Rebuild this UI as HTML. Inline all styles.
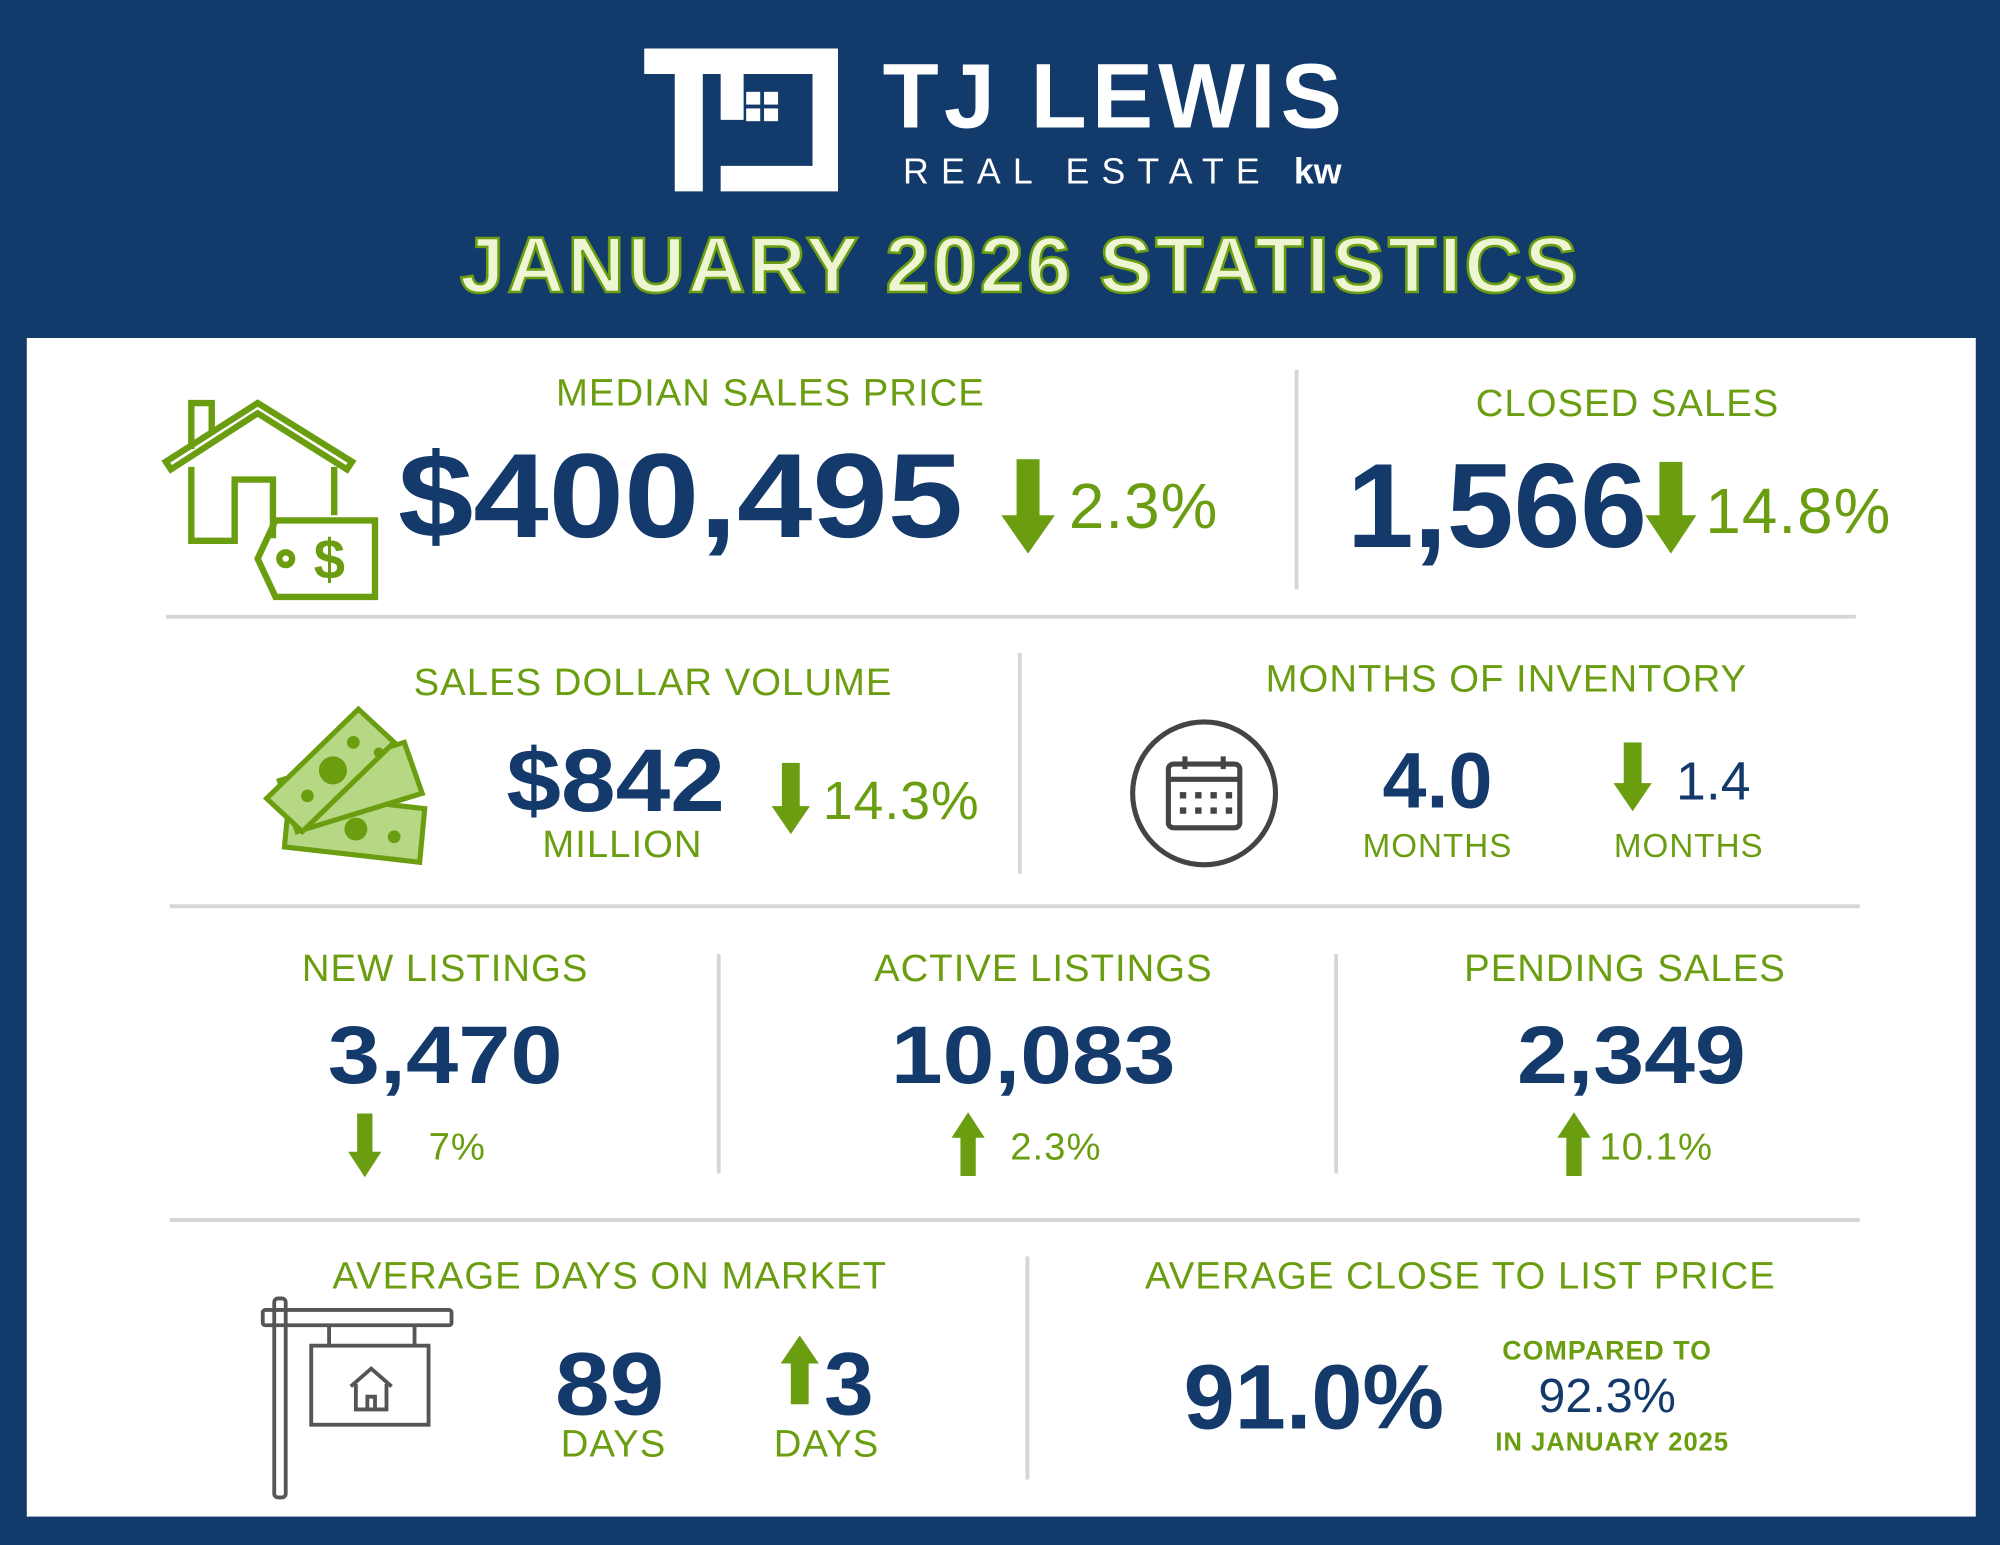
<!DOCTYPE html>
<html><head><meta charset="utf-8"><style>
html,body{margin:0;padding:0;background:#123a6b;overflow:hidden}
#w{width:1568px;height:1211px;position:relative;transform:scale(1.27551);transform-origin:0 0;background:#123a6b;font-family:"Liberation Sans",sans-serif}
.p{position:absolute;left:21px;top:265px;width:1528px;height:924px;background:#fff}
.t{position:absolute;line-height:1;white-space:nowrap}
.c{transform:translateX(-50%)}
.g{color:#6a9e10;letter-spacing:0.8px}
.n{color:#143a6b;font-weight:bold}
.h{position:absolute;height:3px;background:#d6d6d6}
.v{position:absolute;width:3px;background:#d6d6d6}
svg{position:absolute}
</style></head><body><div id="w">
<!-- logo -->
<svg style="left:505px;top:38px" width="155" height="114" viewBox="0 0 155 114">
<path d="M0 0H66V20H46V112H24V20H0Z" fill="#fff"/>
<path d="M60 0H152V112H60V92H132V20H78V56H60Z" fill="#fff"/>
<rect x="80" y="34" width="11" height="10" fill="#fff"/><rect x="94" y="34" width="11" height="10" fill="#fff"/>
<rect x="80" y="47" width="11" height="10" fill="#fff"/><rect x="94" y="47" width="11" height="10" fill="#fff"/>
</svg>
<div class="t" style="left:692px;top:40px;font-size:72px;font-weight:bold;color:#fff;letter-spacing:4px">TJ LEWIS</div>
<div class="t" style="left:708px;top:121px;font-size:28px;color:#fff;letter-spacing:9.5px">REAL ESTATE <b style="letter-spacing:0">kw</b></div>
<div class="t c" style="left:800px;top:178px;font-size:62px;font-weight:bold;color:#eef5d2;-webkit-text-stroke:2px #6a9e10;letter-spacing:2.5px">JANUARY 2026 STATISTICS</div>

<div class="p"></div>
<div class="h" style="left:130px;top:482px;width:1325px"></div>
<div class="h" style="left:133px;top:709px;width:1325px"></div>
<div class="h" style="left:133px;top:955px;width:1325px"></div>
<div class="v" style="left:1015px;top:290px;height:172px"></div>
<div class="v" style="left:798px;top:512px;height:173px"></div>
<div class="v" style="left:562px;top:748px;height:172px"></div>
<div class="v" style="left:1046px;top:748px;height:172px"></div>
<div class="v" style="left:804px;top:985px;height:175px"></div>

<!-- row1 -->
<svg style="left:126px;top:312px" width="172" height="160" viewBox="0 0 172 160" fill="none" stroke="#6a9e10" stroke-width="5">
<path d="M4 50L76 4L150 50L146 56L76 12L8 56Z"/><path d="M24 40V4H40V28"/>
<path d="M24 54V112H58V64H88V110"/><path d="M136 54V92"/>
<path d="M90 96H168V156H90L76 126Z"/><circle cx="98" cy="126" r="5"/>
<text x="120" y="142" fill="#6a9e10" stroke="none" font-size="44" font-weight="bold" font-family="Liberation Sans">$</text>
</svg>
<div class="t c g" style="left:604px;top:294px;font-size:30px">MEDIAN SALES PRICE</div>
<div class="t n" style="left:312px;top:342px;font-size:94px;transform:scaleX(1.13);transform-origin:0 0">$400,495</div>
<svg style="left:785px;top:360px" width="42" height="74"><path d="M12 0H30V44H42L21 74L0 44H12Z" fill="#6a9e10"/></svg>
<div class="t g" style="left:838px;top:372px;font-size:50px">2.3%</div>
<div class="t c g" style="left:1276px;top:302px;font-size:30px">CLOSED SALES</div>
<div class="t n" style="left:1056px;top:350px;font-size:94px">1,566</div>
<svg style="left:1290px;top:362px" width="40" height="72"><path d="M11 0H29V42H40L20 72L0 42H11Z" fill="#6a9e10"/></svg>
<div class="t g" style="left:1337px;top:376px;font-size:50px">14.8%</div>

<!-- row2 -->
<div class="t c g" style="left:512px;top:521px;font-size:30px">SALES DOLLAR VOLUME</div>
<svg style="left:205px;top:552px" width="132" height="128" viewBox="0 0 132 128">
<g stroke="#6a9e10" stroke-width="4" fill="#b6d884">
<path d="M22 70L128 82L124 124L18 112Z"/>
<path d="M14 60L112 30L126 70L28 100Z"/>
<path d="M4 74L76 4L104 30L32 100Z"/>
</g>
<g fill="#6a9e10"><circle cx="56" cy="52" r="11"/><circle cx="72" cy="30" r="5"/><circle cx="36" cy="72" r="5"/><circle cx="92" cy="38" r="4"/><circle cx="104" cy="104" r="5"/><circle cx="74" cy="98" r="9"/></g>
</svg>
<div class="t n" style="left:397px;top:577px;font-size:70px;transform:scaleX(1.1);transform-origin:0 0">$842</div>
<div class="t c g" style="left:488px;top:648px;font-size:30px">MILLION</div>
<svg style="left:605px;top:598px" width="30" height="56"><path d="M8 0H22V34H30L15 56L0 34H8Z" fill="#6a9e10"/></svg>
<div class="t g" style="left:645px;top:607px;font-size:42px">14.3%</div>
<div class="t c g" style="left:1181px;top:518px;font-size:30px">MONTHS OF INVENTORY</div>
<svg style="left:885px;top:563px" width="120" height="120" viewBox="0 0 120 120" fill="none" stroke="#444" stroke-width="4">
<circle cx="59" cy="59" r="56"/><rect x="31" y="36" width="56" height="50" rx="4"/><path d="M31 48H87M44 30V40M74 30V40"/>
<g fill="#444" stroke="none"><rect x="40" y="58" width="5" height="5"/><rect x="52" y="58" width="5" height="5"/><rect x="64" y="58" width="5" height="5"/><rect x="76" y="58" width="5" height="5"/><rect x="40" y="70" width="5" height="5"/><rect x="52" y="70" width="5" height="5"/><rect x="64" y="70" width="5" height="5"/><rect x="76" y="70" width="5" height="5"/></g>
</svg>
<div class="t c n" style="left:1127px;top:582px;font-size:62px">4.0</div>
<div class="t c g" style="left:1127px;top:650px;font-size:26px">MONTHS</div>
<svg style="left:1265px;top:582px" width="30" height="54"><path d="M8 0H22V32H30L15 54L0 32H8Z" fill="#6a9e10"/></svg>
<div class="t n" style="left:1314px;top:592px;font-size:42px;font-weight:normal">1.4</div>
<div class="t c g" style="left:1324px;top:650px;font-size:26px">MONTHS</div>

<!-- row3 -->
<div class="t c g" style="left:349px;top:745px;font-size:30px">NEW LISTINGS</div>
<div class="t c n" style="left:349px;top:795px;font-size:64px;transform:translateX(-50%) scaleX(1.15)">3,470</div>
<svg style="left:273px;top:873px" width="26" height="50"><path d="M7 0H19V30H26L13 50L0 30H7Z" fill="#6a9e10"/></svg>
<div class="t g" style="left:336px;top:885px;font-size:30px">7%</div>
<div class="t c g" style="left:818px;top:745px;font-size:30px">ACTIVE LISTINGS</div>
<div class="t c n" style="left:810px;top:795px;font-size:64px;transform:translateX(-50%) scaleX(1.14)">10,083</div>
<svg style="left:746px;top:872px" width="26" height="50"><path d="M7 50H19V20H26L13 0L0 20H7Z" fill="#6a9e10"/></svg>
<div class="t g" style="left:792px;top:885px;font-size:30px">2.3%</div>
<div class="t c g" style="left:1274px;top:745px;font-size:30px">PENDING SALES</div>
<div class="t c n" style="left:1279px;top:795px;font-size:64px;transform:translateX(-50%) scaleX(1.12)">2,349</div>
<svg style="left:1221px;top:872px" width="26" height="50"><path d="M7 50H19V20H26L13 0L0 20H7Z" fill="#6a9e10"/></svg>
<div class="t g" style="left:1254px;top:885px;font-size:30px">10.1%</div>

<!-- row4 -->
<div class="t c g" style="left:478px;top:986px;font-size:30px">AVERAGE DAYS ON MARKET</div>
<svg style="left:203px;top:1015px" width="154" height="164" viewBox="0 0 154 164" fill="none" stroke="#555" stroke-width="3">
<rect x="12" y="3" width="9" height="156" rx="3"/><rect x="3" y="12" width="148" height="12" rx="2"/>
<path d="M55 24V40M122 24V40"/><rect x="41" y="40" width="92" height="62"/>
<path d="M72 72L88 58L104 72M76 70V90H100V70M85 90V80H91V90"/>
</svg>
<div class="t c n" style="left:478px;top:1050px;font-size:70px;transform:translateX(-50%) scaleX(1.1)">89</div>
<div class="t c g" style="left:481px;top:1118px;font-size:30px">DAYS</div>
<svg style="left:612px;top:1047px" width="30" height="54"><path d="M8 54H22V22H30L15 0L0 22H8Z" fill="#6a9e10"/></svg>
<div class="t n" style="left:646px;top:1050px;font-size:70px">3</div>
<div class="t c g" style="left:648px;top:1118px;font-size:30px">DAYS</div>
<div class="t c g" style="left:1145px;top:986px;font-size:30px">AVERAGE CLOSE TO LIST PRICE</div>
<div class="t n" style="left:928px;top:1060px;font-size:72px">91.0%</div>
<div class="t c g" style="left:1260px;top:1049px;font-size:21px;font-weight:bold">COMPARED TO</div>
<div class="t c n" style="left:1260px;top:1076px;font-size:38px;font-weight:normal">92.3%</div>
<div class="t c g" style="left:1264px;top:1121px;font-size:20px;font-weight:bold">IN JANUARY 2025</div>
</div></body></html>
